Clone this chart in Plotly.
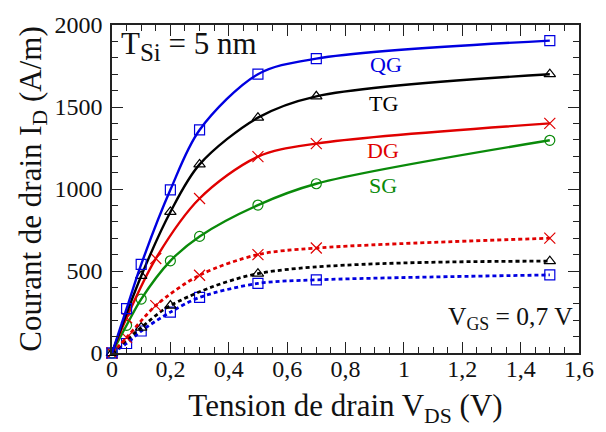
import plotly.graph_objects as go

# Output characteristics I_D(V_DS) at V_GS = 0.7 V, T_Si = 5 nm
# Solid curves: one family of devices (QG, TG, DG, SG)
qg_x = [0, 0.05, 0.1, 0.2, 0.3, 0.5, 0.7, 1.5]
qg_y = [0, 270, 540, 995, 1360, 1700, 1795, 1905]

tg_x = [0, 0.1, 0.2, 0.3, 0.5, 0.7, 1.5]
tg_y = [0, 470, 860, 1150, 1435, 1565, 1700]

dg_x = [0, 0.05, 0.15, 0.3, 0.5, 0.7, 1.5]
dg_y = [0, 215, 576, 942, 1197, 1277, 1400]

sg_x = [0, 0.05, 0.1, 0.2, 0.3, 0.5, 0.7, 1.5]
sg_y = [0, 169, 329, 562, 711, 902, 1032, 1297]

# Dotted curves: second family
dg2_x = [0, 0.05, 0.15, 0.3, 0.5, 0.7, 1.5]
dg2_y = [0, 94, 289, 474, 600, 640, 700]

tg2_x = [0, 0.1, 0.2, 0.5, 1.5]
tg2_y = [0, 155, 289, 484, 560]

qg2_x = [0, 0.05, 0.1, 0.2, 0.3, 0.5, 0.7, 1.5]
qg2_y = [0, 58, 134, 249, 339, 424, 446, 476]

x_tick_vals = [0, 0.2, 0.4, 0.6, 0.8, 1.0, 1.2, 1.4, 1.6]
x_tick_text = ["0", "0,2", "0,4", "0,6", "0,8", "1", "1,2", "1,4", "1,6"]
y_tick_vals = [0, 500, 1000, 1500, 2000]
y_tick_text = ["0", "500", "1000", "1500", "2000"]

BLUE = "#0000e0"
BLACK = "#000000"
RED = "#e00000"
GREEN = "#0a8a0a"
FONT = "Liberation Serif"

fig = go.Figure()


def add_curve(x, y, color, symbol, dash, width, msize):
    fig.add_trace(go.Scatter(
        x=x, y=y, mode="lines+markers",
        line=dict(color=color, width=width, dash=dash, shape="spline", smoothing=0.9),
        marker=dict(symbol=symbol, size=msize, color=color,
                    line=dict(color=color, width=1.2)),
        showlegend=False, cliponaxis=False,
    ))


DOT = "4px,3px"
add_curve(qg2_x, qg2_y, BLUE, "square-open", DOT, 2.8, 10)
add_curve(tg2_x, tg2_y, BLACK, "triangle-up-open", DOT, 2.8, 10)
add_curve(dg2_x, dg2_y, RED, "x-thin-open", DOT, 2.8, 11)

add_curve(sg_x, sg_y, GREEN, "circle-open", "solid", 2.4, 10)
add_curve(dg_x, dg_y, RED, "x-thin-open", "solid", 2.4, 11)
add_curve(tg_x, tg_y, BLACK, "triangle-up-open", "solid", 2.4, 10)
add_curve(qg_x, qg_y, BLUE, "square-open", "solid", 2.4, 10)

axis_common = dict(
    showgrid=False, zeroline=False, showline=True, linecolor="#222",
    linewidth=1.5, mirror="ticks", ticks="inside", ticklen=11, tickwidth=1.3,
    tickcolor="#222", tickfont=dict(family=FONT, size=24, color="#111"),
)

fig.update_xaxes(
    range=[0, 1.6], tickvals=x_tick_vals, ticktext=x_tick_text,
    ticklabelstandoff=-7,
    minor=dict(ticks="inside", dtick=0.05, ticklen=6, tickwidth=1.1, tickcolor="#222"),
    title=dict(text="Tension de drain V<sub>DS</sub> (V)",
               font=dict(family=FONT, size=31, color="#111"), standoff=14),
    **axis_common,
)
fig.update_yaxes(
    range=[0, 2000], tickvals=y_tick_vals, ticktext=y_tick_text,
    ticklabelstandoff=3,
    minor=dict(ticks="inside", dtick=100, ticklen=6, tickwidth=1.1, tickcolor="#222"),
    title=dict(text="Courant de drain I<sub>D</sub> (A/m)",
               font=dict(family=FONT, size=31, color="#111"), standoff=4),
    **axis_common,
)

annotations = [
    dict(x=0.024, y=1875,
         text="T<sub><span style='font-size:25px'>Si</span></sub> = 5 nm",
         size=31, color="#111", xanchor="left", yanchor="middle"),
    dict(x=0.939, y=1759, text="QG", size=22, color=BLUE, xanchor="center", yanchor="middle"),
    dict(x=0.93, y=1524, text="TG", size=22, color=BLACK, xanchor="center", yanchor="middle"),
    dict(x=0.93, y=1235, text="DG", size=22, color=RED, xanchor="center", yanchor="middle"),
    dict(x=0.93, y=1024, text="SG", size=22, color=GREEN, xanchor="center", yanchor="middle"),
    dict(x=1.585, y=212, text="V<sub>GS</sub> = 0,7 V", size=25.5, color="#111",
         xanchor="right", yanchor="middle"),
]
for a in annotations:
    fig.add_annotation(x=a["x"], y=a["y"], text=a["text"], showarrow=False,
                       xanchor=a["xanchor"], yanchor=a["yanchor"],
                       font=dict(family=FONT, size=a["size"], color=a["color"]))

fig.update_layout(
    width=606, height=432,
    margin=dict(l=112, r=25, t=21, b=79),
    paper_bgcolor="white", plot_bgcolor="white",
    font=dict(family=FONT),
)

fig.write_html("out.html")
